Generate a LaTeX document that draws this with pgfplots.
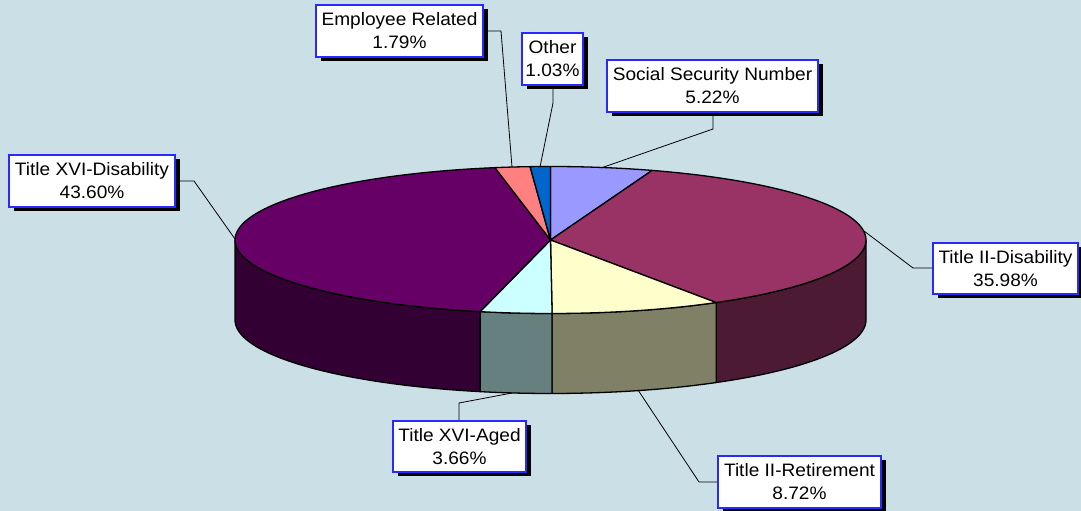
\documentclass[border=0pt]{standalone}
\usepackage{pgfplots}
\pgfplotsset{compat=1.18}
\usepackage{fontspec}
\setmainfont{Liberation Sans}[FakeStretch=1.06]
\usetikzlibrary{shadows}

\definecolor{bgcol}{RGB}{203,223,230}
\definecolor{cSSN}{HTML}{9999FF}
\definecolor{cTIID}{HTML}{993366}
\definecolor{cTIIDs}{HTML}{4D1A33}
\definecolor{cTIIR}{HTML}{FFFFCC}
\definecolor{cTIIRs}{HTML}{808066}
\definecolor{cXA}{HTML}{CCFFFF}
\definecolor{cXAs}{HTML}{668080}
\definecolor{cXD}{HTML}{660066}
\definecolor{cXDs}{HTML}{330033}
\definecolor{cEMP}{HTML}{FF8080}
\definecolor{cOTH}{HTML}{0066CC}
\definecolor{lblblue}{RGB}{40,40,255}

% shares in per cent, clockwise from the top
\def\vSSN{5.22}
\def\vTIID{35.98}
\def\vTIIR{8.72}
\def\vXA{3.66}
\def\vXD{43.60}
\def\vEMP{1.79}
\def\vOTH{1.03}

% geometry (1 unit = 1 pixel)
\def\cx{550.5}
\def\cy{271}
\def\rx{315.5}
\def\ry{73.5}
\def\dd{80}

\pgfmathsetmacro{\bA}{90}
\pgfmathsetmacro{\bB}{\bA-3.6*\vSSN}
\pgfmathsetmacro{\bC}{\bB-3.6*\vTIID}
\pgfmathsetmacro{\bD}{\bC-3.6*\vTIIR}
\pgfmathsetmacro{\bE}{\bD-3.6*\vXA}
\pgfmathsetmacro{\bF}{\bE-3.6*\vXD}
\pgfmathsetmacro{\bG}{\bF-3.6*\vEMP}
\pgfmathsetmacro{\bH}{\bG-3.6*\vOTH}

\newcommand{\topwedge}[3]{%
  \addplot[fill=#1, draw=black, line width=1.3pt, line join=round,
    domain=#2:#3, samples=90, variable=\t]
    ({\cx+\rx*cos(\t)},{\cy+\ry*sin(\t)}) -- (axis cs:\cx,\cy) -- cycle;
}
\newcommand{\sideface}[3]{%
  \addplot[fill=#1, draw=black, line width=1.3pt, line join=round,
    domain=0:60, samples=121, variable=\t]
    ({\cx+\rx*cos(sth(\t,#2,#3))},{\cy+\ry*sin(sth(\t,#2,#3))-sdr(\t)}) -- cycle;
}

\tikzset{lbl/.style={draw=lblblue, line width=1.1pt, fill=white, inner sep=0pt,
  align=center, font=\fontsize{18}{23}\selectfont,
  general shadow={fill=black, shadow xshift=4.5pt, shadow yshift=-4.5pt}}}

\begin{document}
\begin{tikzpicture}
\useasboundingbox (0,0) rectangle (1081pt,511pt);
\fill[bgcol] (0,0) rectangle (1081pt,511pt);
\begin{axis}[at={(0,0)}, anchor=south west, scale only axis,
  width=1081pt, height=511pt, xmin=0, xmax=1081, ymin=0, ymax=511,
  hide axis, clip=false,
  declare function={
    sth(\s,\a,\b)= \s<=20 ? \a+(\b-\a)*\s/20 : (\s<=40 ? \b : \b+(\a-\b)*(\s-40)/20);
    sdr(\s)= \s<=20 ? 0 : (\s<=40 ? \dd*(\s-20)/20 : \dd);
  }]
% side faces (front half only)
\sideface{cTIIDs}{\bC}{0}
\sideface{cTIIRs}{\bD}{\bC}
\sideface{cXAs}{\bE}{\bD}
\sideface{cXDs}{-180}{\bE}
% top faces
\topwedge{cSSN}{\bB}{\bA}
\topwedge{cTIID}{\bC}{\bB}
\topwedge{cTIIR}{\bD}{\bC}
\topwedge{cXA}{\bE}{\bD}
\topwedge{cXD}{\bF}{\bE}
\topwedge{cEMP}{\bG}{\bF}
\topwedge{cOTH}{\bH}{\bG}
% leader lines
\addplot[black, line width=0.8pt] coordinates {(175,330) (194,330) (235,272)};
\addplot[black, line width=0.8pt] coordinates {(483,480) (501,480) (512,344)};
\addplot[black, line width=0.8pt] coordinates {(553,426) (553,408) (540,344)};
\addplot[black, line width=0.8pt] coordinates {(713,399) (713,382) (601,343)};
\addplot[black, line width=0.8pt] coordinates {(933,243) (913,243) (864,280)};
\addplot[black, line width=0.8pt] coordinates {(718,29) (699,29) (638,121)};
\addplot[black, line width=0.8pt] coordinates {(459,90) (459,108) (512,118)};
% labels
\node[lbl, minimum width=166pt, minimum height=52pt] at (axis cs:92,330) {Title XVI-Disability\\43.60\%};
\node[lbl, minimum width=167pt, minimum height=52pt] at (axis cs:399.5,480) {Employee Related\\1.79\%};
\node[lbl, minimum width=61pt, minimum height=52pt] at (axis cs:552.5,452) {Other\\1.03\%};
\node[lbl, minimum width=211pt, minimum height=52pt] at (axis cs:712.5,425) {Social Security Number\\5.22\%};
\node[lbl, minimum width=145pt, minimum height=51pt] at (axis cs:1005.5,242.5) {Title II-Disability\\35.98\%};
\node[lbl, minimum width=163pt, minimum height=52pt] at (axis cs:799.5,29) {Title II-Retirement\\8.72\%};
\node[lbl, minimum width=133pt, minimum height=51pt] at (axis cs:459.5,64.5) {Title XVI-Aged\\3.66\%};
\end{axis}
\end{tikzpicture}
\end{document}
